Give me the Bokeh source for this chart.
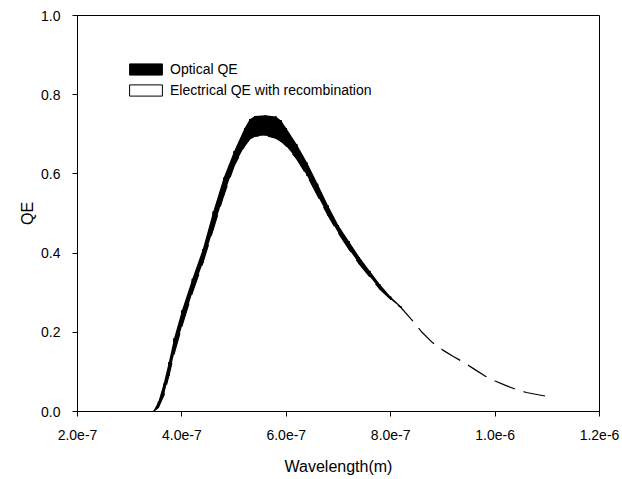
from bokeh.plotting import figure
from bokeh.models import (Range1d, FixedTicker, PrintfTickFormatter, Legend, LegendItem,
                          ColumnDataSource)
from bokeh.embed import file_html
from bokeh.resources import INLINE

# ---- data ----
band_wavelength = [3.45e-7, 3.55e-7, 3.65e-7, 3.75e-7, 3.85e-7, 4.0e-7, 4.2e-7, 4.4e-7,
                   4.6e-7, 4.8e-7, 5.0e-7, 5.2e-7, 5.3e-7, 5.4e-7, 5.6e-7, 5.8e-7,
                   5.9e-7, 6.0e-7, 6.2e-7, 6.4e-7, 6.6e-7, 6.8e-7, 7.0e-7, 7.2e-7,
                   7.4e-7, 7.6e-7, 7.8e-7, 8.0e-7, 8.2e-7]
optical_qe_upper = [0.0, 0.025, 0.07, 0.125, 0.185, 0.255, 0.335, 0.41, 0.505, 0.59,
                    0.657, 0.715, 0.738, 0.746, 0.748, 0.745, 0.735, 0.715, 0.675, 0.628,
                    0.575, 0.52, 0.47, 0.43, 0.39, 0.355, 0.32, 0.29, 0.265]
optical_qe_lower = [0.0, 0.01, 0.04, 0.09, 0.145, 0.215, 0.30, 0.375, 0.46, 0.545,
                    0.62, 0.67, 0.688, 0.695, 0.697, 0.69, 0.682, 0.67, 0.638, 0.595,
                    0.545, 0.495, 0.45, 0.41, 0.372, 0.34, 0.308, 0.283, 0.262]

electrical_wavelength = band_wavelength + [8.4e-7, 8.6e-7, 8.8e-7, 9.0e-7, 9.2e-7, 9.4e-7,
                                           9.6e-7, 9.8e-7, 1.0e-6, 1.02e-6, 1.04e-6,
                                           1.06e-6, 1.08e-6, 1.10e-6]
electrical_qe = optical_qe_lower + [0.232, 0.200, 0.174, 0.155, 0.139, 0.124, 0.107,
                                    0.090, 0.077, 0.066, 0.056, 0.048, 0.043, 0.038]

x_ticks = [2e-7, 4e-7, 6e-7, 8e-7, 1.0e-6, 1.2e-6]
y_ticks = [0.0, 0.2, 0.4, 0.6, 0.8, 1.0]

FONT = "Liberation Sans"

p = figure(width=622, height=479, output_backend="svg", toolbar_location=None,
           x_range=Range1d(2e-7, 1.2e-6), y_range=Range1d(0, 1.0),
           min_border_left=77, min_border_right=23, min_border_top=15, min_border_bottom=68)
p.xgrid.visible = False
p.ygrid.visible = False
p.outline_line_color = "black"
p.outline_line_width = 1
p.background_fill_color = "white"
p.border_fill_color = "white"

band_src = ColumnDataSource(dict(x=band_wavelength, y1=optical_qe_lower, y2=optical_qe_upper))
p.varea(x="x", y1="y1", y2="y2", source=band_src, fill_color="black")

# zero-width bars spanning the band (hidden inside the black band); they carry the legend swatches
opt_bars = p.quad(left="x", right="x", bottom="y1", top="y2", source=band_src,
                  fill_color="black", line_color="black", line_width=1, line_join="miter")
el_bars = p.quad(left="x", right="x", bottom="y1", top="y2", source=band_src,
                 fill_color="white", line_color="black", line_width=1, line_join="miter")

el_src = ColumnDataSource(dict(x=electrical_wavelength, y=electrical_qe))
p.line(x="x", y="y", source=el_src, line_color="black", line_width=1.2, line_dash="22 9")

legend = Legend(items=[LegendItem(label="Optical QE", renderers=[opt_bars]),
                       LegendItem(label="Electrical QE with recombination", renderers=[el_bars])],
                location=(48, 311), orientation="vertical")
legend.glyph_width = 41
legend.glyph_height = 14
legend.label_height = 21
legend.spacing = 0
legend.padding = 0
legend.margin = 0
legend.label_standoff = 4
legend.border_line_color = None
legend.background_fill_alpha = 0
legend.label_text_font = FONT
legend.label_text_font_size = "14px"
legend.label_text_color = "black"
p.add_layout(legend, "center")

for ax in (p.xaxis[0], p.yaxis[0]):
    ax.axis_line_color = "black"
    ax.major_tick_line_color = "black"
    ax.minor_tick_line_color = None
    ax.major_tick_out = 5
    ax.major_tick_in = 0
    ax.major_label_text_font = FONT
    ax.major_label_text_font_size = "14px"
    ax.major_label_text_color = "black"
    ax.axis_label_text_font = FONT
    ax.axis_label_text_font_size = "16px"
    ax.axis_label_text_font_style = "normal"
    ax.axis_label_text_color = "black"

p.xaxis.ticker = FixedTicker(ticks=x_ticks)
p.xaxis.formatter = PrintfTickFormatter(format="%.1e")
p.xaxis.axis_label = "Wavelength(m)"
p.xaxis.major_label_standoff = 13
p.xaxis.axis_label_standoff = 15

p.yaxis.ticker = FixedTicker(ticks=y_ticks)
p.yaxis.formatter = PrintfTickFormatter(format="%.1f")
p.yaxis.axis_label = "QE"
p.yaxis.major_label_standoff = 12
p.yaxis.axis_label_standoff = 2

open("out.html", "w").write(file_html(p, INLINE))
